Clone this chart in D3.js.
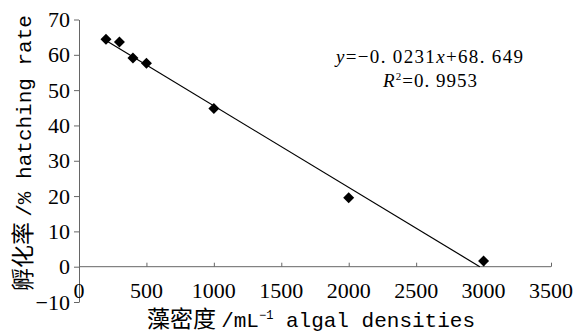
<!DOCTYPE html>
<html>
<head>
<meta charset="utf-8">
<script src="https://cdn.jsdelivr.net/npm/d3@7"></script>
<style>
  body { margin: 0; background: #fff; }
  text { fill: #000; }
</style>
</head>
<body>
<div id="main"></div>
<script>
// data
const densities = [200, 300, 400, 500, 1000, 2000, 3000];
const hatchRates = [64.4, 63.6, 59.1, 57.6, 44.8, 19.5, 1.6];
const xTicks = [0, 500, 1000, 1500, 2000, 2500, 3000, 3500];
const yTicks = [-10, 0, 10, 20, 30, 40, 50, 60, 70];
const slope = -0.0231;
const intercept = 68.649;

const svgWidth = 581;
const svgHeight = 333;
const margin = { t: 19.5, r: 30, b: 31, l: 79 };

const svg = d3.select('#main')
  .append('svg')
  .attr('width', svgWidth)
  .attr('height', svgHeight);

const x = d3.scaleLinear().domain([0, 3500]).range([margin.l, 551]);
const y = d3.scaleLinear().domain([-10, 70]).range([302, margin.t]);

const axisColor = '#666';
const tickFont = '"Liberation Serif", "Times New Roman", serif';
const monoFont = '"Liberation Mono", monospace';
const cjkFont = '"Noto Sans CJK SC", sans-serif';

// y axis
const yAxis = svg.append('g')
  .attr('transform', `translate(${x(0)},0)`)
  .call(d3.axisLeft(y).tickValues(yTicks).tickSize(5).tickSizeOuter(0).tickFormat(d => d < 0 ? '\u221210' : d));
yAxis.selectAll('path, line').attr('stroke', axisColor);
yAxis.selectAll('text')
  .attr('font-family', tickFont)
  .attr('font-size', 22)
  .attr('x', -9);

// x axis at y = 0, ticks pointing up, labels below the plot
const xAxis = svg.append('g')
  .attr('transform', `translate(0,${y(0)})`)
  .call(d3.axisTop(x).tickValues(xTicks).tickSize(4).tickSizeOuter(0).tickFormat(''));
xAxis.selectAll('path, line').attr('stroke', axisColor);
xAxis.select('.domain').attr('d', `M${x(0)},0H${x(3500)}`);

svg.append('g')
  .selectAll('text')
  .data(xTicks)
  .enter()
  .append('text')
  .attr('x', d => x(d))
  .attr('y', 298)
  .attr('text-anchor', 'middle')
  .attr('font-family', tickFont)
  .attr('font-size', 22)
  .text(d => d);

// trend line, drawn across the data range down to the x axis
const xEnd = Math.min(d3.max(densities), -intercept / slope);
svg.append('line')
  .attr('x1', x(d3.min(densities)))
  .attr('y1', y(slope * d3.min(densities) + intercept))
  .attr('x2', x(xEnd))
  .attr('y2', y(slope * xEnd + intercept))
  .attr('stroke', '#000')
  .attr('stroke-width', 1.2);

// diamond markers
const pts = densities.map((d, i) => ({ dens: d, rate: hatchRates[i] }));
const r = 5.5;
svg.append('g')
  .selectAll('path')
  .data(pts)
  .enter()
  .append('path')
  .attr('d', d => {
    const cx = x(d.dens), cy = y(d.rate);
    return `M${cx},${cy - r}L${cx + r},${cy}L${cx},${cy + r}L${cx - r},${cy}Z`;
  })
  .attr('fill', '#000');

// equation
const eq = svg.append('text')
  .attr('x', 336)
  .attr('y', 63)
  .attr('font-family', tickFont)
  .attr('font-size', 19)
  .attr('textLength', 187)
  .attr('lengthAdjust', 'spacing');
eq.append('tspan').attr('font-style', 'italic').text('y');
eq.append('tspan').text('=\u22120. 0231');
eq.append('tspan').attr('font-style', 'italic').text('x');
eq.append('tspan').text('+68. 649');

const r2 = svg.append('text')
  .attr('x', 383)
  .attr('y', 87)
  .attr('font-family', tickFont)
  .attr('font-size', 19)
  .attr('textLength', 94)
  .attr('lengthAdjust', 'spacing');
r2.append('tspan').attr('font-style', 'italic').text('R');
r2.append('tspan').attr('font-size', 11).attr('dy', -7).text('2');
r2.append('tspan').attr('dy', 7).text('=0. 9953');

// axis titles
const xTitle = svg.append('text')
  .attr('x', 311)
  .attr('y', 327)
  .attr('text-anchor', 'middle')
  .attr('font-size', 21);
xTitle.append('tspan').attr('font-family', cjkFont).attr('font-size', 23).text('藻密度 ');
xTitle.append('tspan').attr('font-family', monoFont).text('/mL');
xTitle.append('tspan').attr('font-family', monoFont).attr('font-size', 12).attr('dy', -8).text('\u22121');
xTitle.append('tspan').attr('font-family', monoFont).attr('dy', 8).text(' algal densities');

const yTitle = svg.append('text')
  .attr('transform', 'translate(31,153) rotate(-90)')
  .attr('text-anchor', 'middle')
  .attr('font-size', 21);
yTitle.append('tspan').attr('font-family', cjkFont).attr('font-size', 23).text('孵化率 ');
yTitle.append('tspan').attr('font-family', monoFont).text('/% hatching rate');
</script>
</body>
</html>
